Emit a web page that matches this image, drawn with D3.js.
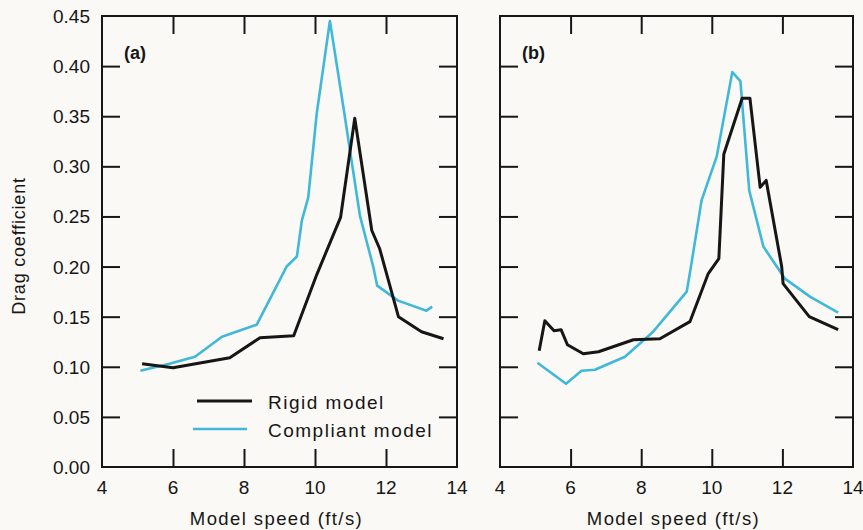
<!DOCTYPE html>
<html>
<head>
<meta charset="utf-8">
<script src="https://cdn.jsdelivr.net/npm/d3@7"></script>
<style>
  body { margin: 0; background: #fbf9f5; }
  svg { display: block; font-family: "Liberation Sans", Arial, sans-serif; }
</style>
</head>
<body>
<svg id="chart" width="863" height="530"></svg>
<script>
'use strict';

// ---- data ----
var xTicks = [4, 6, 8, 10, 12, 14];
var yTicks = [0, 0.05, 0.10, 0.15, 0.20, 0.25, 0.30, 0.35, 0.40, 0.45];

// panel (a)
var rigidA = [[5.13,0.103],[6.0,0.099],[7.6,0.109],[8.45,0.129],[9.4,0.131],[10.05,0.192],[10.72,0.249],
              [11.12,0.348],[11.6,0.236],[11.82,0.218],[12.35,0.150],[13.0,0.135],[13.62,0.128]];
var compliantA = [[5.08,0.096],[5.9,0.103],[6.62,0.110],[7.38,0.130],[8.36,0.142],[9.2,0.200],[9.49,0.210],
                  [9.63,0.246],[9.81,0.269],[10.05,0.353],[10.42,0.445],[10.8,0.359],[11.27,0.250],
                  [11.64,0.200],[11.75,0.181],[12.34,0.166],[13.14,0.156],[13.3,0.160]];

// panel (b)
var rigidB = [[5.11,0.116],[5.27,0.146],[5.53,0.136],[5.73,0.137],[5.91,0.122],[6.36,0.113],[6.79,0.115],
              [7.78,0.127],[8.53,0.128],[9.38,0.145],[9.9,0.193],[10.2,0.208],[10.34,0.312],[10.86,0.368],
              [11.08,0.368],[11.37,0.279],[11.54,0.286],[11.98,0.200],[12.02,0.183],[12.76,0.150],[13.58,0.137]];
var compliantB = [[5.06,0.104],[5.87,0.083],[6.31,0.096],[6.69,0.097],[7.54,0.110],[8.34,0.135],[9.29,0.175],
                  [9.41,0.200],[9.71,0.266],[10.14,0.310],[10.58,0.394],[10.81,0.385],[11.06,0.276],
                  [11.46,0.220],[11.84,0.200],[12.07,0.188],[12.78,0.170],[13.58,0.154]];

var legendLabels = ['Rigid model', 'Compliant model'];

var INK = '#161616', CYAN = '#40b8d9';

var svg = d3.select('#chart');

var plotTop = 16, plotBottom = 467;

//draws one framed panel with its series
function drawPanel(left, right, label, rigid, compliant, showYLabels) {
    var x = d3.scaleLinear().domain([4, 14]).range([left, right]);
    var y = d3.scaleLinear().domain([0, 0.45]).range([plotBottom, plotTop]);
    var g = svg.append('g');
    var tl = 18;

    // inner ticks on all four sides
    var inner = function (sel, axis) { sel.call(axis); sel.select('.domain').remove(); };
    g.append('g').attr('transform', 'translate(0,' + plotBottom + ')')
      .call(inner, d3.axisTop(x).tickValues([6, 8, 10, 12]).tickSize(tl).tickFormat(''));
    g.append('g').attr('transform', 'translate(0,' + plotTop + ')')
      .call(inner, d3.axisBottom(x).tickValues([6, 8, 10, 12]).tickSize(tl).tickFormat(''));
    g.append('g').attr('transform', 'translate(' + left + ',0)')
      .call(inner, d3.axisRight(y).tickValues(yTicks.slice(1, -1)).tickSize(tl).tickFormat(''));
    g.append('g').attr('transform', 'translate(' + right + ',0)')
      .call(inner, d3.axisLeft(y).tickValues(yTicks.slice(1, -1)).tickSize(tl).tickFormat(''));
    g.selectAll('.tick line').attr('stroke', INK).attr('stroke-width', 2);

    g.append('rect')
      .attr('x', left).attr('y', plotTop)
      .attr('width', right - left).attr('height', plotBottom - plotTop)
      .attr('fill', 'none').attr('stroke', INK).attr('stroke-width', 2);

    // tick labels
    g.selectAll('.xlab').data(xTicks).enter().append('text')
      .attr('x', function (d) { return x(d); }).attr('y', 494)
      .attr('text-anchor', 'middle').attr('font-size', 19).attr('fill', INK)
      .text(function (d) { return d; });
    if (showYLabels) {
        g.selectAll('.ylab').data(yTicks).enter().append('text')
          .attr('x', 90).attr('y', function (d) { return y(d) + 7; })
          .attr('text-anchor', 'end').attr('font-size', 19).attr('fill', INK)
          .text(function (d) { return d.toFixed(2); });
    }

    g.append('text')
      .attr('x', (left + right) / 2 - 3).attr('y', 525)
      .attr('text-anchor', 'middle').attr('font-size', 18.5).attr('letter-spacing', 1.4).attr('fill', INK)
      .text('Model speed (ft/s)');

    g.append('text')
      .attr('x', left + 22).attr('y', 59)
      .attr('font-size', 18).attr('font-weight', 'bold').attr('fill', INK)
      .text(label);

    var line = d3.line().x(function (d) { return x(d[0]); }).y(function (d) { return y(d[1]); });
    g.append('path').datum(compliant).attr('d', line)
      .attr('fill', 'none').attr('stroke', CYAN).attr('stroke-width', 2.6).attr('stroke-linejoin', 'round');
    g.append('path').datum(rigid).attr('d', line)
      .attr('fill', 'none').attr('stroke', INK).attr('stroke-width', 3).attr('stroke-linejoin', 'round');

    return { x: x, y: y };
}

drawPanel(102, 457, '(a)', rigidA, compliantA, true);
drawPanel(500, 853, '(b)', rigidB, compliantB, false);

// y axis title
svg.append('text')
  .attr('transform', 'translate(25,246) rotate(-90)')
  .attr('text-anchor', 'middle').attr('font-size', 18).attr('letter-spacing', 0.8).attr('fill', INK)
  .text('Drag coefficient');

// legend
var legend = svg.append('g');
var legendRows = [{ name: legendLabels[0], color: INK, w: 3, x0: 197, x1: 252, y: 401 },
                  { name: legendLabels[1], color: CYAN, w: 2.6, x0: 193, x1: 247, y: 429 }];
legend.selectAll('line').data(legendRows).enter().append('line')
  .attr('x1', function (d) { return d.x0; }).attr('x2', function (d) { return d.x1; })
  .attr('y1', function (d) { return d.y; }).attr('y2', function (d) { return d.y; })
  .attr('stroke', function (d) { return d.color; }).attr('stroke-width', function (d) { return d.w; });
legend.selectAll('text').data(legendRows).enter().append('text')
  .attr('x', 268).attr('y', function (d) { return d.y + 7.5; })
  .attr('font-size', 19).attr('letter-spacing', 1.5).attr('fill', INK)
  .text(function (d) { return d.name; });
</script>
</body>
</html>
